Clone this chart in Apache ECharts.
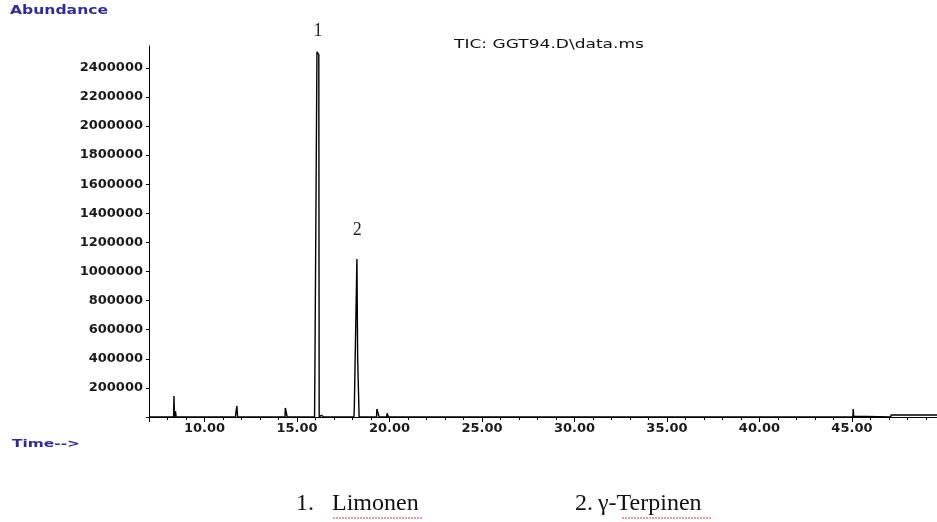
<!DOCTYPE html>
<html>
<head>
<meta charset="utf-8">
<script src="https://cdn.jsdelivr.net/npm/echarts@6/dist/echarts.min.js"></script>
<style>
  html, body { margin: 0; padding: 0; background: #fff; }
  #chart { width: 937px; height: 522px; }
</style>
</head>
<body>
<div id="chart"></div>
<script>
// retention time (min) and abundance
const times = [
  7.0,
  8.33, 8.35, 8.38, 8.43, 8.47,
  11.67, 11.70, 11.75, 11.79,
  12.38, 12.40, 12.42,
  14.35, 14.37, 14.45, 14.47,
  15.95, 15.97, 16.06, 16.08, 16.18, 16.20,
  16.30, 16.32, 16.34, 16.46, 16.48, 16.50,
  18.08, 18.10, 18.19, 18.24, 18.27, 18.28, 18.35, 18.36,
  19.30, 19.32, 19.42, 19.44,
  19.85, 19.87, 19.91, 19.95,
  29.90, 29.92, 29.94,
  45.05, 45.07, 45.10, 45.15,
  47.10, 47.12, 49.6
]
const abundance = [
  0,
  0, 145000, 0, 40000, 0,
  0, 30000, 76000, 0,
  0, 12000, 0,
  0, 62000, 62000, 0,
  0, 340000, 340000, 2510000, 2490000, 0,
  0, 12000, 0, 0, 10000, 0,
  0, 70000, 70000, 1086000, 1086000, 405000, 405000, 0,
  0, 55000, 55000, 0,
  0, 25000, 15000, 0,
  0, 10000, 0,
  0, 55000, 5000, 0,
  0, 14000, 14000
]

// numbered peaks
const peakNames = ['1', '2']
const peakTimes = [16.13, 18.255]
const peakTops = [2510000, 1086000]
const compoundNums = ['1.', '2.']
const compoundNames = ['Limonen', 'γ-Terpinen']

const chart = echarts.init(document.getElementById('chart'))

const labelFont = 'DejaVu Sans'

const option = {
  animation: false,
  backgroundColor: '#fff',
  grid: {
    left: 149,
    top: 46,
    width: 788,
    height: 371
  },
  xAxis: {
    type: 'value',
    min: 7,
    max: 49.6,
    minInterval: 5,
    maxInterval: 5,
    axisLine: { onZero: false, lineStyle: { color: '#000', width: 1 } },
    axisTick: { length: 5, lineStyle: { color: '#000' } },
    minorTick: { show: true, splitNumber: 5, length: 3, lineStyle: { color: '#000' } },
    splitLine: { show: false },
    axisLabel: {
      margin: 5,
      color: '#1a1a1a',
      fontFamily: labelFont,
      fontWeight: 'bold',
      fontSize: 13,
      showMinLabel: false,
      showMaxLabel: false,
      formatter: v => (Math.abs(v % 5) < 1e-6 ? v.toFixed(2) : '')
    }
  },
  yAxis: {
    type: 'value',
    min: 0,
    max: 2550000,
    interval: 200000,
    axisLine: { show: true, lineStyle: { color: '#000', width: 1 } },
    axisTick: { show: true, length: 3, lineStyle: { color: '#000' } },
    splitLine: { show: false },
    axisLabel: {
      margin: 6,
      color: '#1a1a1a',
      fontFamily: labelFont,
      fontWeight: 'bold',
      fontSize: 13,
      showMaxLabel: false,
      formatter: v => (v > 0 && v <= 2400000 && v % 200000 === 0 ? String(v) : '')
    }
  },
  series: [
    {
      type: 'line',
      data: times.map((t, i) => [t, abundance[i]]),
      showSymbol: false,
      symbol: 'none',
      lineStyle: { color: '#000', width: 1.4, join: 'bevel' },
      clip: false,
      markPoint: {
        symbol: 'circle',
        symbolSize: 0,
        data: peakNames.map((n, i) => ({
          coord: [peakTimes[i], peakTops[i]],
          label: {
            show: true,
            formatter: n,
            position: 'top',
            distance: i === 0 ? 12 : 20,
            color: '#222',
            fontFamily: 'Liberation Serif',
            fontSize: 18
          }
        }))
      }
    }
  ],
  graphic: [
    {
      type: 'text', x: 10, y: 5, scaleX: 1.3,
      style: { text: 'Abundance', fill: '#2c2ca0', font: 'bold 12px DejaVu Sans', verticalAlign: 'top' }
    },
    {
      type: 'text', x: 12, y: 439, scaleX: 1.4,
      style: { text: 'Time-->', fill: '#2c2ca0', font: 'bold 11px DejaVu Sans', verticalAlign: 'top' }
    },
    {
      type: 'text', x: 454, y: 39, scaleX: 1.42,
      style: { text: 'TIC: GGT94.D\\data.ms', fill: '#111', font: '12px DejaVu Sans', verticalAlign: 'top' }
    },
    {
      type: 'text', x: 296, y: 504,
      style: { text: compoundNums[0], fill: '#111', font: '24px Liberation Serif', verticalAlign: 'middle' }
    },
    {
      type: 'text', x: 332, y: 504,
      style: { text: compoundNames[0], fill: '#111', font: '24px Liberation Serif', verticalAlign: 'middle' }
    },
    {
      type: 'text', x: 575, y: 504,
      style: { text: compoundNums[1], fill: '#111', font: '24px Liberation Serif', verticalAlign: 'middle' }
    },
    {
      type: 'text', x: 598, y: 504,
      style: { text: compoundNames[1], fill: '#111', font: '24px Liberation Serif', verticalAlign: 'middle' }
    },
    {
      type: 'line', shape: { x1: 333, y1: 518, x2: 422, y2: 518 },
      style: { stroke: '#e03030', lineWidth: 1, lineDash: [2, 1] }
    },
    {
      type: 'line', shape: { x1: 622, y1: 518, x2: 711, y2: 518 },
      style: { stroke: '#e03030', lineWidth: 1, lineDash: [2, 1] }
    }
  ]
}

chart.setOption(option)
</script>
</body>
</html>
